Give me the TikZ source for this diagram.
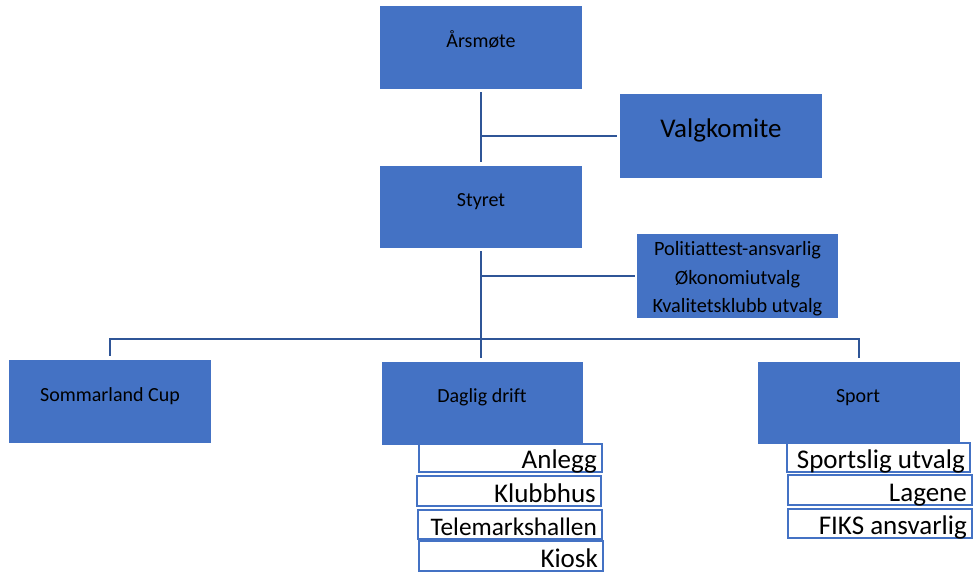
\documentclass[tikz,border=0pt]{standalone}
\usepackage{fontspec}
\setmainfont{Carlito}[Ligatures=CommonOff]
\usetikzlibrary{calc}
\definecolor{boxblue}{HTML}{4472C4}
\definecolor{lineblue}{HTML}{2F5597}
\definecolor{subblue}{HTML}{4472C4}
\begin{document}
\begin{tikzpicture}[x=1pt,y=-1pt,
  mainbox/.style={fill=boxblue, draw=none, inner sep=0pt, minimum width=202pt, minimum height=83pt},
  subbox/.style={draw=subblue, line width=2pt, fill=white, inner sep=0pt, minimum width=184pt, minimum height=29pt},
  conn/.style={draw=lineblue, line width=2.8pt},
  lbl/.style={anchor=base, inner sep=0pt, font=\fontsize{20}{24}\selectfont},
  biglbl/.style={anchor=base, inner sep=0pt, font=\fontsize{27}{32}\selectfont},
  sublbl/.style={anchor=base east, inner sep=0pt, font=\fontsize{27}{32}\selectfont}]
\useasboundingbox (0,0) rectangle (977,573);

% sub boxes (drawn first, main boxes overlap them)
\node[subbox, minimum width=183pt, minimum height=28pt] (anlegg) at (510.5,458) {};
\node[subbox, minimum height=30pt] (klubb) at (509,491) {};
\node[subbox] (tele) at (510,524.5) {};
\node[subbox, minimum height=30pt] (kiosk) at (511,556) {};
\node[subbox, minimum width=183pt] (sportsl) at (878.5,457.5) {};
\node[subbox, minimum height=30pt] (lagene) at (880,490) {};
\node[subbox] (fiks) at (880,523.5) {};

\foreach \b/\t in {anlegg/Anlegg, klubb/Klubbhus, tele/{\fontsize{25.3}{30}\selectfont Telemarkshallen}, kiosk/Kiosk, sportsl/Sportslig utvalg, lagene/Lagene, fiks/FIKS ansvarlig}{
  \begin{scope}
    \clip ([shift={(1,-1)}]\b.south west) rectangle ([shift={(-1,1)}]\b.north east);
    \node[sublbl] (\b-t) at ([shift={(-6,-4.5)}]\b.south east) {\t};
  \end{scope}
}

% main boxes
\node[mainbox] (arsmote) at (481,47.5) {};
\node[mainbox, minimum height=84pt] (valg) at (721,135.5) {};
\node[mainbox, minimum height=82pt] (styret) at (481,207) {};
\node[mainbox, minimum width=201pt, minimum height=84pt] (policy) at (737.5,276) {};
\node[mainbox] (sommar) at (110,401.5) {};
\node[mainbox, minimum width=201pt] (daglig) at (482,403.5) {};
\node[mainbox, minimum height=82pt] (sport) at (859,403) {};

% labels
\node[lbl] (arsmote-t) at (481,47.7) {Årsmøte};
\node[biglbl] (valg-t) at (721,137.3) {Valgkomite};
\node[lbl] (styret-t) at (481,206.7) {Styret};
\node[inner sep=0pt, align=center, font=\fontsize{20.3}{28.5}\selectfont] (policy-t) at (737.5,279)
      {Politiattest-ansvarlig\\Økonomiutvalg\\Kvalitetsklubb utvalg};
\node[lbl] (sommar-t) at (110,401.7) {Sommarland Cup};
\node[lbl] (daglig-t) at (482,402.7) {Daglig drift};
\node[lbl] (sport-t) at (858,402.7) {Sport};

% connectors
\coordinate (j1) at (481,136);
\coordinate (j2) at (481,276);
\coordinate (bus) at (481,339);
\draw[conn, shorten <=3pt, shorten >=4pt] (arsmote.south) -- (styret.north);
\draw[conn, shorten >=3pt] (j1) -- (valg.west |- j1);
\draw[conn, shorten <=3pt, shorten >=4pt] (styret.south) -- (styret.south |- daglig.north);
\draw[conn, shorten >=2pt] (j2) -- (policy.west |- j2);
\draw[conn, line width=2.3pt, shorten <=4pt, shorten >=4pt] (sommar.north) -- (sommar.north |- bus) -- (sport.north |- bus) -- (sport.north);
\end{tikzpicture}
\end{document}
